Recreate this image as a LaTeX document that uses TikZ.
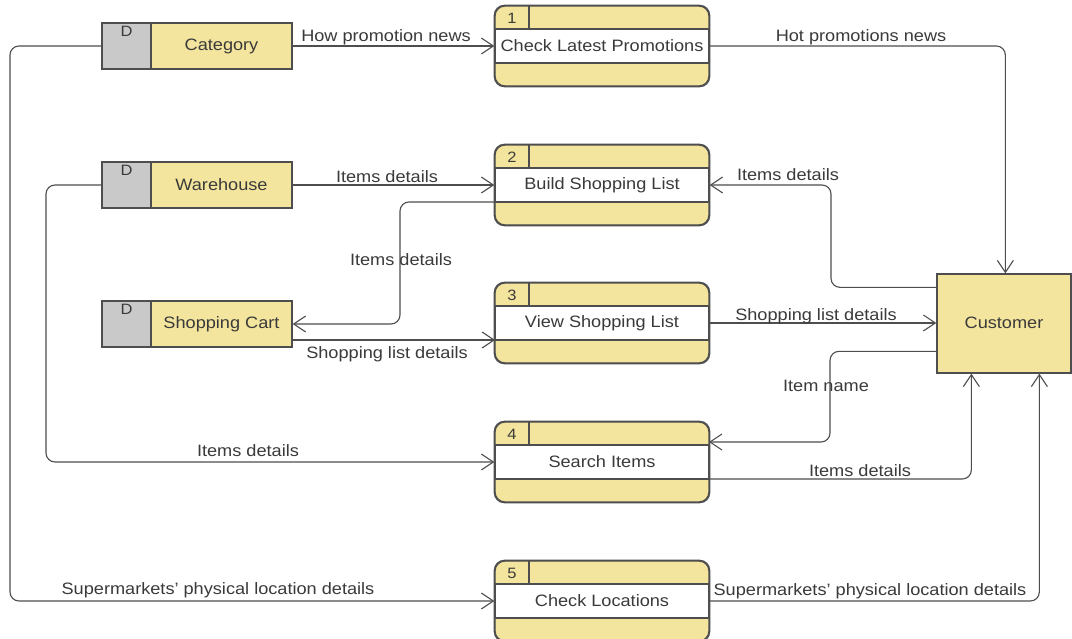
\documentclass[tikz,border=0pt]{standalone}
\usepackage{fontspec}
\usepackage{graphicx}
\setmainfont{Liberation Sans}
\usetikzlibrary{arrows.meta,calc}

\definecolor{boxyellow}{HTML}{F3E59D}
\definecolor{storegray}{HTML}{C9C9C9}
\definecolor{edgecol}{HTML}{4E4E4E}
\definecolor{txtcol}{HTML}{3A3A3A}

% slightly widened sans text
\newcommand\wide[1]{\scalebox{1.1}[1]{#1}}

\tikzset{
  edge/.style={draw=edgecol, line width=1.3pt},
  proc/.style={edge, fill=boxyellow, rounded corners=10pt, minimum width=214pt,
    minimum height=80pt, inner sep=0pt},
  band/.style={edge, fill=white},
  store/.style={edge, fill=boxyellow, minimum width=190pt, minimum height=46pt, inner sep=0pt},
  entity/.style={edge, fill=boxyellow, minimum width=134pt, minimum height=99pt, inner sep=0pt},
  ptext/.style={text=txtcol, font=\fontsize{16.5}{19}\selectfont, inner sep=1pt},
  num/.style={text=txtcol, font=\fontsize{15}{18}\selectfont, inner sep=0pt},
  lbl/.style={text=txtcol, font=\fontsize{16.5}{19}\selectfont, inner sep=0pt},
  flow/.style={draw=edgecol, line width=1.1pt, rounded corners=9pt,
    -{Straight Barb[length=12pt,width=16pt]}},
}

% process: name, number, centre y, title
\newcommand\procbox[4]{%
  \node[proc] (#1) at (602,#3) {};
  \draw[band] (495,{#3-17}) rectangle (709,{#3+17});
  \draw[edge] (529,{#3-40}) -- (529,{#3-17});
  \draw[edge, rounded corners=10pt] (#1.north west) rectangle (#1.south east);
  \node[num] (#1-n) at (512,{#3-28}) {\wide{#2}};
  \node[ptext] (#1-t) at (602,#3) {\wide{#4}};
  \coordinate (#1-bl) at (495,{#3+17});
  \coordinate (#1-br) at (709,{#3+17});
  \coordinate (#1-tr) at (709,{#3-20});
}

% data store: name, centre y, title
\newcommand\dstore[3]{%
  \node[store] (#1) at (197,#2) {};
  \draw[edge, fill=storegray] (102,{#2-23}) rectangle (151,{#2+23});
  \node[num] (#1-d) at (126.5,{#2-15}) {\wide{D}};
  \node[ptext] (#1-t) at (221.5,#2) {\wide{#3}};
}

\begin{document}
\begin{tikzpicture}[x=1pt,y=-1pt]
\useasboundingbox[fill=white] (0,0) rectangle (1072,639);

% processes
\procbox{p1}{1}{46}{Check Latest Promotions}
\procbox{p2}{2}{185}{Build Shopping List}
\procbox{p3}{3}{323}{View Shopping List}
\procbox{p4}{4}{462}{Search Items}
\procbox{p5}{5}{601}{Check Locations}

% data stores
\dstore{ds1}{46}{Category}
\dstore{ds2}{185}{Warehouse}
\dstore{ds3}{324}{Shopping Cart}

% external entity
\node[entity] (cust) at (1004,323.5) {};
\node[ptext] (cust-t) at (1004,323) {\wide{Customer}};

% attachment points on the customer box
\coordinate (cw1) at ($(cust.north west)+(0,14)$);
\coordinate (cw3) at ($(cust.north west)+(0,78)$);
\coordinate (cs1) at ($(cust.south west)+(35,0)$);
\coordinate (cs2) at ($(cust.south west)+(103,0)$);
\coordinate (cn)  at ($(cust.north west)+(69,0)$);

% data flows
\draw[flow] (ds1.east) -- (p1.west);
\draw[flow] (p1.east) -| (cn);
\draw[flow] (ds2.east) -- (p2.west);
\draw[flow] (p2-bl) -| (400,260) |- (ds3.east);
\draw[flow] (cw1) -| (831,240) |- (p2.east);
\draw[flow] (ds3.east |- p3-bl) -- (p3-bl);
\draw[flow] (p3.east) -- (p3.east -| cust.west);
\draw[flow] (cw3) -| (830,400) |- (p4-tr);
\draw[flow] (p4-br) -| (cs1);
\draw[flow] (ds2.west) -| (46,300) |- (p4.west);
\draw[flow] (ds1.west) -| (10,300) |- (p5.west);
\draw[flow] (p5.east) -| (cs2);

% flow labels
\node[lbl] (l1)  at (386,37)  {\wide{How promotion news}};
\node[lbl] (l2)  at (861,37)  {\wide{Hot promotions news}};
\node[lbl] (l3)  at (387,177) {\wide{Items details}};
\node[lbl] (l4)  at (401,260) {\wide{Items details}};
\node[lbl] (l5)  at (788,175) {\wide{Items details}};
\node[lbl] (l6)  at (387,354) {\wide{Shopping list details}};
\node[lbl] (l7)  at (816,316) {\wide{Shopping list details}};
\node[lbl] (l8)  at (826,386) {\wide{Item name}};
\node[lbl] (l9)  at (860,471) {\wide{Items details}};
\node[lbl] (l10) at (248,451) {\wide{Items details}};
\node[lbl] (l11) at (218,590) {\wide{Supermarkets' physical location details}};
\node[lbl] (l12) at (870,591) {\wide{Supermarkets' physical location details}};
\end{tikzpicture}
\end{document}
